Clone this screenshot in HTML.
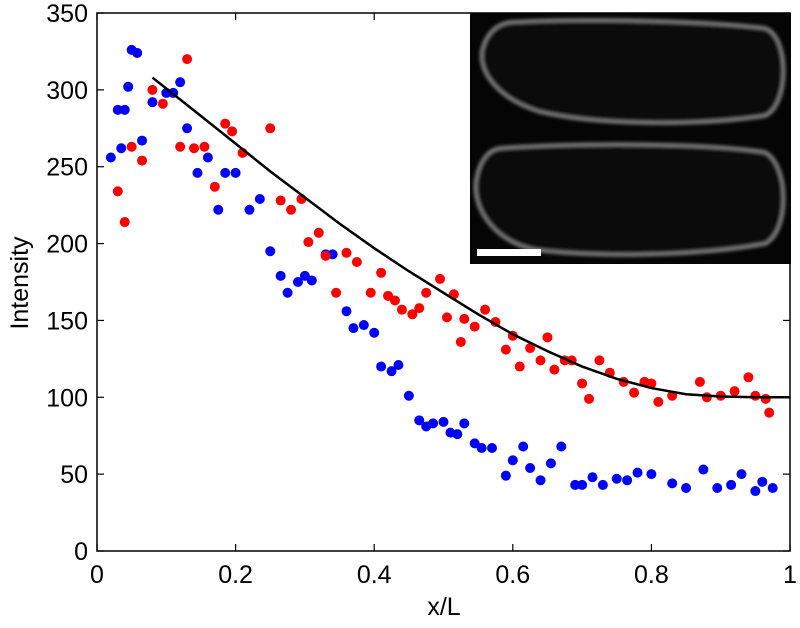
<!DOCTYPE html>
<html><head><meta charset="utf-8"><style>
body{margin:0;background:#fff;}
svg{display:block;font-family:"Liberation Sans",sans-serif;}
</style></head><body>
<svg id="chart" width="800" height="628">
<g id="axes"></g>
<g id="marks"></g>
<g id="inset">
  <defs>
    <filter id="blur1"><feGaussianBlur stdDeviation="1.5"/></filter>
  </defs>
  <rect x="470" y="13" width="321" height="251" fill="#050505"/>
  <path d="M510,22 C580,18 700,20 765,28 C790,36 790,105 765,116 C700,126 600,126 540,112 C495,98 478,70 482,50 C486,34 496,24 510,22 Z" fill="#0c0c0c" stroke="#8a8a8a" stroke-width="4" filter="url(#blur1)" opacity="0.85"/>
  <path d="M500,148 C570,143 700,142 765,152 C790,165 790,232 765,244 C700,256 600,258 535,250 C490,240 472,205 476,180 C479,162 487,150 500,148 Z" fill="#0c0c0c" stroke="#8a8a8a" stroke-width="4" filter="url(#blur1)" opacity="0.85"/>
  <rect x="477" y="249" width="64" height="7" fill="#fff"/>
</g>
<text x="444" y="615" font-size="25" text-anchor="middle">x/L</text>
<text transform="translate(28,283) rotate(-90)" font-size="25" text-anchor="middle">Intensity</text>
</svg>
<script>
const xTicks=[0,0.2,0.4,0.6,0.8,1];
const xTickLabels=["0","0.2","0.4","0.6","0.8","1"];
const yTicks=[0,50,100,150,200,250,300,350];
const yTickLabels=["0","50","100","150","200","250","300","350"];
const blueX=[0.02,0.03,0.035,0.04,0.045,0.05,0.058,0.065,0.08,0.1,0.11,0.12,0.13,0.145,0.16,0.175,0.185,0.2,0.22,0.235,0.25,0.265,0.275,0.29,0.3,0.31,0.33,0.34,0.36,0.37,0.385,0.4,0.41,0.425,0.435,0.45,0.465,0.475,0.485,0.5,0.51,0.52,0.53,0.545,0.555,0.57,0.59,0.6,0.615,0.625,0.64,0.655,0.67,0.69,0.7,0.715,0.73,0.75,0.765,0.78,0.8,0.83,0.85,0.875,0.895,0.915,0.93,0.95,0.96,0.975];
const blueY=[256,287,262,287,302,326,324,267,292,298,298,305,275,246,256,222,246,246,222,229,195,179,168,175,179,176,193,193,156,145,147,142,120,117,121,101,85,81,83,84,77,76,83,70,67,67,49,59,68,54,46,57,68,43,43,48,43,47,46,51,50,44,41,53,41,43,50,39,45,41];
const redX=[0.03,0.04,0.05,0.065,0.08,0.095,0.12,0.13,0.14,0.155,0.17,0.185,0.195,0.21,0.25,0.265,0.28,0.295,0.305,0.32,0.33,0.345,0.36,0.375,0.395,0.41,0.42,0.43,0.44,0.455,0.465,0.475,0.495,0.505,0.515,0.525,0.53,0.545,0.56,0.575,0.59,0.6,0.61,0.625,0.64,0.65,0.66,0.675,0.685,0.7,0.71,0.725,0.74,0.76,0.775,0.79,0.8,0.81,0.83,0.87,0.88,0.9,0.92,0.94,0.95,0.965,0.97];
const redY=[234,214,263,254,300,291,263,320,262,263,237,278,273,259,275,228,222,229,201,207,192,168,194,188,168,181,166,163,157,154,158,168,177,152,167,136,151,146,157,149,131,140,120,132,124,139,118,124,124,109,99,124,116,110,103,110,109,97,101,110,100,101,104,113,101,99,90];
const fitX=[0.08,0.15,0.2,0.25,0.3,0.35,0.4,0.45,0.5,0.55,0.6,0.65,0.7,0.75,0.8,0.85,0.9,0.95,1];
const fitY=[308,283,265,247,230,213,197,182,168,154,141,130,120,112,106,102,100.5,100,100];

const NS="http://www.w3.org/2000/svg";
const X0=97,X1=790,Y0=551,Y1=13;
const sx=v=>X0+v*(X1-X0);
const sy=v=>Y0-v/350*(Y0-Y1);
function mk(tag,attrs,parent){const e=document.createElementNS(NS,tag);for(const k in attrs)e.setAttribute(k,attrs[k]);parent.appendChild(e);return e;}
const axes=document.getElementById('axes'),marks=document.getElementById('marks');
const frame=mk('rect',{x:X0,y:Y1,width:X1-X0,height:Y0-Y1,fill:'none',stroke:'#000','stroke-width':1.5},axes);


xTicks.forEach((t,i)=>{
  const l=mk('line',{x1:sx(t),x2:sx(t),y1:Y0,y2:Y0-7,stroke:'#000','stroke-width':1.2},axes);
  
  
  mk('line',{x1:sx(t),x2:sx(t),y1:Y1,y2:Y1+7,stroke:'#000','stroke-width':1.2},axes);
  const tx=mk('text',{x:sx(t),y:Y0+32,'font-size':25,'text-anchor':'middle'},axes);
  tx.textContent=xTickLabels[i];
  
  
});
yTicks.forEach((t,i)=>{
  const l=mk('line',{x1:X0,x2:X0+7,y1:sy(t),y2:sy(t),stroke:'#000','stroke-width':1.2},axes);
  
  
  mk('line',{x1:X1,x2:X1-7,y1:sy(t),y2:sy(t),stroke:'#000','stroke-width':1.2},axes);
  const tx=mk('text',{x:X0-9,y:sy(t)+9,'font-size':25,'text-anchor':'end'},axes);
  tx.textContent=yTickLabels[i];
  
  
});
blueX.forEach((x,i)=>{
  const c=mk('circle',{cx:sx(x),cy:sy(blueY[i]),r:5,fill:'#0000ff'},marks);
  
  
});
redX.forEach((x,i)=>{
  const c=mk('circle',{cx:sx(x),cy:sy(redY[i]),r:5,fill:'#ff0000'},marks);
  
  
});
const fit=mk('polyline',{points:fitX.map((x,i)=>sx(x)+','+sy(fitY[i])).join(' '),fill:'none',stroke:'#000','stroke-width':2.5},marks);


</script>
</body></html>
